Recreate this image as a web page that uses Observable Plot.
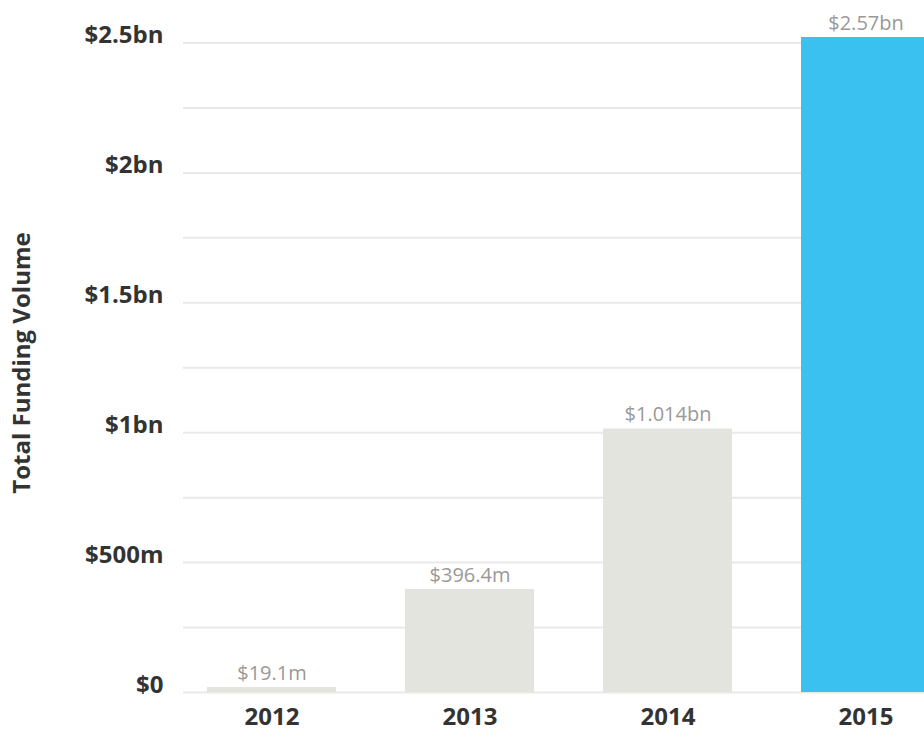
<!DOCTYPE html>
<html>
<head>
<meta charset="utf-8">
<script src="https://cdn.jsdelivr.net/npm/d3@7"></script>
<script src="https://cdn.jsdelivr.net/npm/@observablehq/plot@0.6"></script>
<style>
  html, body { margin: 0; padding: 0; background: #fff; overflow: hidden; }
  #chart { width: 924px; height: 737px; overflow: hidden; }
  #chart svg { overflow: hidden; }
</style>
</head>
<body>
<div id="chart"></div>
<script>
const years = ["2012", "2013", "2014", "2015"];
const values = [0.0191, 0.3964, 1.014, 2.57]; // billions USD
const valueLabels = ["$19.1m", "$396.4m", "$1.014bn", "$2.57bn"];
const gridTicks = [0, 0.25, 0.5, 0.75, 1, 1.25, 1.5, 1.75, 2, 2.25, 2.5];
const labelTicks = [0, 0.5, 1, 1.5, 2, 2.5];
const tickLabels = ["$0", "$500m", "$1bn", "$1.5bn", "$2bn", "$2.5bn"];
const highlightYear = "2015";
const yTitle = "Total Funding Volume";

const data = years.map((year, i) => ({year, value: values[i], label: valueLabels[i]}));
const ticks = labelTicks.map((v, i) => ({v, label: tickLabels[i]}));

const font = "'Open Sans', sans-serif";

const chart = Plot.plot({
  width: 924,
  height: 737,
  marginLeft: 183,
  marginRight: -30,
  marginTop: 37,
  marginBottom: 45,
  style: {fontFamily: font, color: "#333", background: "#fff", overflow: "hidden"},
  x: {domain: years, paddingInner: 0.351, paddingOuter: 0.116, label: null},
  y: {domain: [0, 2.5212], clamp: true, axis: null},
  marks: [
    Plot.ruleY(gridTicks, {stroke: "#e9e9e9", strokeWidth: 2}),
    Plot.barY(data, {
      x: "year", y: "value",
      fill: d => d.year === highlightYear ? "#3ac1f0" : "#e4e4df"
    }),
    Plot.text(data, {
      x: "year", y: "value", text: "label",
      lineAnchor: "bottom", dy: -8,
      fontSize: 20, fill: "#9b9997", fontFamily: font
    }),
    Plot.text(ticks, {
      y: "v", text: "label", frameAnchor: "left",
      textAnchor: "end", lineAnchor: "bottom", dx: -20,
      fontSize: 24, fontWeight: "bold", fill: "#333", fontFamily: font
    }),
    Plot.axisX({
      tickSize: 0, tickPadding: 15, label: null,
      fontSize: 24, fontWeight: "bold", fill: "#333", fontFamily: font
    }),
    Plot.text([yTitle], {
      frameAnchor: "left", textAnchor: "middle", dx: -161, dy: -2, rotate: -90,
      fontSize: 24, fontWeight: "bold", fill: "#333", fontFamily: font
    })
  ]
});
document.getElementById("chart").appendChild(chart);
</script>
</body>
</html>
